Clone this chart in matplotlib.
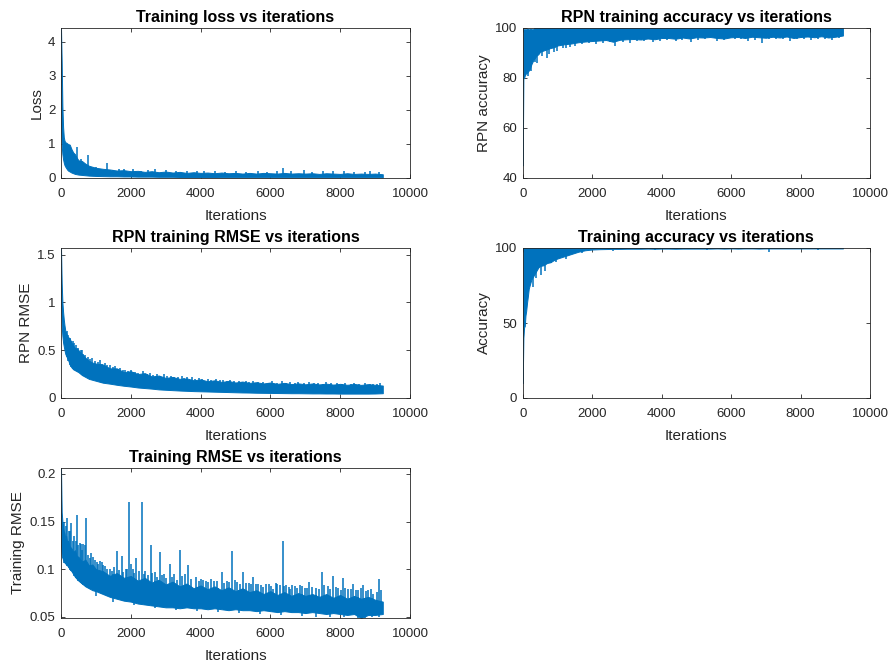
import numpy as np
import matplotlib
matplotlib.use("Agg")
import matplotlib.pyplot as plt

plt.rcParams['font.family'] = ['Liberation Sans', 'DejaVu Sans']

# ---------------- data ----------------
iterations = [0, 20, 40, 60, 80, 100, 125, 150, 175, 200, 250, 300, 350, 400,
              450, 500, 600, 700, 800, 900, 1000] + list(range(1200, 9001, 200)) + [9220]

# Training loss: dense band (lower / upper envelope) + isolated spikes
loss_upper = [4.41, 3.4, 2.1, 1.5, 1.2, 1.1, 1.05, 1.04, 1.02, 1.0, 0.98, 0.85, 0.75, 0.7,
              0.6, 0.52, 0.5, 0.42, 0.36, 0.33, 0.3,
              0.27, 0.25, 0.22, 0.23, 0.2, 0.21, 0.18, 0.2, 0.17, 0.19,
              0.16, 0.18, 0.15, 0.17, 0.15, 0.16, 0.14, 0.16, 0.14, 0.15,
              0.13, 0.15, 0.13, 0.15, 0.14, 0.13, 0.15, 0.13, 0.14, 0.13,
              0.14, 0.12, 0.14, 0.13, 0.12, 0.14, 0.12, 0.13, 0.12, 0.13,
              0.11]
loss_lower = [1.6, 0.95, 0.7, 0.55, 0.45, 0.38, 0.33, 0.29, 0.25, 0.22, 0.19, 0.16, 0.14, 0.12,
              0.11, 0.1, 0.09, 0.08, 0.07, 0.065, 0.06,
              0.055, 0.05, 0.05, 0.045, 0.045, 0.04, 0.04, 0.04, 0.035, 0.035,
              0.035, 0.03, 0.03, 0.03, 0.03, 0.03, 0.03, 0.025, 0.025, 0.025,
              0.025, 0.025, 0.025, 0.025, 0.02, 0.02, 0.02, 0.02, 0.02, 0.02,
              0.02, 0.02, 0.02, 0.02, 0.02, 0.02, 0.02, 0.02, 0.02, 0.02,
              0.02]
loss_spike_iters = [467, 560, 764, 1000, 1310, 1650, 2050, 2700, 3000, 3900, 4400,
                    5650, 6370, 6950, 7500, 8100, 8850,
                    1500, 1800, 2300, 2500, 3300, 3600, 4100, 4700, 5000, 5300, 5900,
                    6200, 6600, 7200, 7800, 8400, 8700, 9100]
loss_spike_vals = [0.92, 0.55, 0.68, 0.32, 0.44, 0.27, 0.26, 0.25, 0.24, 0.22, 0.21,
                   0.22, 0.29, 0.24, 0.22, 0.21, 0.2,
                   0.24, 0.25, 0.22, 0.23, 0.2, 0.21, 0.2, 0.19, 0.2, 0.18, 0.19,
                   0.2, 0.21, 0.19, 0.2, 0.18, 0.19, 0.17]

# RPN training accuracy
rpn_acc_upper = [62, 99.5, 99.5, 99.5, 99.5, 99.5, 99.5, 99.5, 99.5, 99.5, 99.5, 99.5, 100, 100,
                 100, 100, 100, 100, 100, 100, 100,
                 100, 100, 100, 100, 100, 100, 100, 100, 100, 100,
                 100, 100, 100, 100, 100, 100, 100, 100, 100, 100,
                 100, 100, 100, 100, 100, 100, 100, 100, 100, 100,
                 100, 100, 100, 100, 100, 100, 100, 100, 100, 100,
                 100]
rpn_acc_lower = [45, 80, 80, 81, 81.5, 82, 82, 82.5, 83, 83.5, 85.5, 87, 88, 89,
                 89.5, 90.5, 91, 91.5, 92, 92.3, 93,
                 93.5, 93.8, 94.3, 94.6, 94.8, 95, 95.2, 94.5, 95.3, 95.5,
                 95.6, 95.4, 95.8, 95.5, 96, 96, 95.7, 96.2, 95.8, 96.3,
                 96.2, 96.4, 96, 95.8, 96.3, 96.4, 96, 96.5, 96.3, 96.1,
                 96.5, 96.2, 96.6, 96, 96.4, 96.6, 96.3, 96.7, 96.2, 96.5,
                 97]
rpn_acc_dip_iters = [250, 420, 700, 760, 1000, 1250, 1500, 2100, 2650, 3100, 3750, 4400,
                     4850, 5600, 6500, 6900, 7700, 8300, 8900,
                     150, 350, 550, 900, 1150, 1350, 1700, 1900, 2300, 2500, 2900, 3300,
                     3500, 3950, 4150, 4600, 5050, 5250, 5800, 6100, 6300, 6700, 7100,
                     7300, 7500, 7900, 8100, 8500, 8700, 9100]
rpn_acc_dip_vals = [83, 86, 88, 89.5, 91, 92, 93, 93.8, 93, 94.2, 94.5, 94.8,
                    94.5, 95, 95, 94.2, 95, 95.2, 95.3,
                    81, 86.5, 89, 90.5, 92, 92.5, 93.5, 94, 94.2, 94.3, 94.6, 94.8,
                    94.7, 95, 95.2, 95.1, 95.3, 95.5, 95.4, 95.5, 95.6, 95.4, 95.7,
                    95.5, 95.6, 95.8, 95.6, 95.7, 95.8, 95.9]

# RPN training RMSE
rpn_rmse_upper = [1.57, 1.2, 1.0, 0.9, 0.82, 0.76, 0.7, 0.68, 0.65, 0.64, 0.62, 0.58, 0.55, 0.52,
                  0.52, 0.5, 0.46, 0.42, 0.39, 0.37, 0.36,
                  0.35, 0.31, 0.31, 0.27, 0.28, 0.25, 0.26, 0.225, 0.235, 0.21,
                  0.22, 0.2, 0.205, 0.185, 0.195, 0.175, 0.185, 0.168, 0.178, 0.162,
                  0.172, 0.158, 0.165, 0.152, 0.162, 0.148, 0.158, 0.145, 0.153, 0.143,
                  0.152, 0.142, 0.15, 0.14, 0.148, 0.138, 0.147, 0.137, 0.145, 0.138,
                  0.13]
rpn_rmse_lower = [1.0, 0.75, 0.65, 0.58, 0.54, 0.5, 0.46, 0.44, 0.42, 0.4, 0.35, 0.32, 0.3, 0.29,
                  0.28, 0.27, 0.24, 0.22, 0.2, 0.19, 0.18,
                  0.16, 0.15, 0.138, 0.128, 0.12, 0.11, 0.104, 0.098, 0.09, 0.086,
                  0.082, 0.078, 0.075, 0.072, 0.07, 0.068, 0.066, 0.064, 0.062, 0.06,
                  0.058, 0.057, 0.055, 0.054, 0.053, 0.052, 0.051, 0.05, 0.05, 0.049,
                  0.048, 0.048, 0.047, 0.047, 0.046, 0.046, 0.046, 0.046, 0.046, 0.047,
                  0.05]
rpn_rmse_spike_iters = [210, 286, 334, 420, 560, 640, 760, 900, 1117, 1259, 1400, 1547, 1700,
                        1833, 2000, 2120, 2359, 2550, 2741, 2950, 3150, 3457, 3600, 3744,
                        3950, 4200, 4450, 4650, 4843, 5100, 5300, 5500, 5800, 6050, 6322,
                        6550, 6800, 7100, 7350, 7600, 7900, 8150, 8400, 8700, 8950, 9150,
                        160, 250, 380, 480, 600, 700, 820, 960, 1050, 1180, 1330, 1480,
                        1620, 1770, 1920, 2060, 2200, 2450, 2640, 2850, 3050, 3250, 3350,
                        3520, 3850, 4050, 4300, 4550, 4750, 4950, 5200, 5400, 5650, 5950,
                        6200, 6450, 6700, 6950, 7250, 7500, 7750, 8050, 8300, 8550, 8850, 9050]
rpn_rmse_spike_vals = [0.66, 0.6, 0.6, 0.55, 0.5, 0.46, 0.43, 0.42, 0.4, 0.37, 0.35, 0.33, 0.31,
                       0.29, 0.29, 0.275, 0.285, 0.26, 0.255, 0.25, 0.235, 0.23, 0.22, 0.22,
                       0.205, 0.2, 0.195, 0.19, 0.19, 0.18, 0.18, 0.175, 0.172, 0.175, 0.182,
                       0.165, 0.168, 0.165, 0.16, 0.17, 0.16, 0.158, 0.16, 0.155, 0.15, 0.16,
                       0.7, 0.63, 0.57, 0.52, 0.5, 0.45, 0.41, 0.39, 0.38, 0.36, 0.34, 0.32,
                       0.3, 0.29, 0.28, 0.27, 0.265, 0.25, 0.24, 0.235, 0.225, 0.22, 0.215,
                       0.21, 0.2, 0.195, 0.19, 0.185, 0.18, 0.178, 0.172, 0.168, 0.165, 0.162,
                       0.16, 0.16, 0.155, 0.155, 0.152, 0.15, 0.152, 0.148, 0.15, 0.146, 0.147, 0.145]

# Training accuracy
acc_upper = [12, 100, 100, 100, 100, 100, 100, 100, 100, 100, 100, 100, 100, 100,
             100, 100, 100, 100, 100, 100, 100,
             100, 100, 100, 100, 100, 100, 100, 100, 100, 100,
             100, 100, 100, 100, 100, 100, 100, 100, 100, 100,
             100, 100, 100, 100, 100, 100, 100, 100, 100, 100,
             100, 100, 100, 100, 100, 100, 100, 100, 100, 100,
             100]
acc_lower = [10, 40, 47, 48, 55, 58, 63.5, 68, 73, 75, 79, 81, 83, 85,
             87, 88, 88.5, 90, 90.5, 92, 93,
             94.5, 96, 97.5, 98.5, 99, 99.2, 99.3, 99.4, 99.4, 99.5,
             99.5, 99.5, 99.6, 99.5, 99.6, 99.6, 99.5, 99.6, 99.6, 99.6,
             99.6, 99.6, 99.7, 99.6, 99.7, 99.6, 99.7, 99.7, 99.6, 99.7,
             99.7, 99.7, 99.7, 99.7, 99.7, 99.7, 99.7, 99.7, 99.7, 99.7,
             99.7]
acc_dip_iters = [300, 380, 520, 650, 820, 950, 1150, 1250, 1400, 1700, 2600, 3800, 5300, 7100, 8500]
acc_dip_vals = [74, 80, 82, 85, 90, 91, 94, 92.5, 96, 97, 98.3, 98.5, 98.6, 97.5, 98.6]

# Training RMSE
rmse_upper = [0.2063, 0.16, 0.15, 0.145, 0.14, 0.138, 0.132, 0.135, 0.128, 0.13, 0.124, 0.122,
              0.118, 0.12, 0.114, 0.113, 0.108, 0.11, 0.104, 0.105, 0.1,
              0.098, 0.093, 0.096, 0.091, 0.093, 0.088, 0.091, 0.086, 0.089, 0.084,
              0.087, 0.082, 0.085, 0.08, 0.083, 0.079, 0.082, 0.078, 0.081, 0.077,
              0.08, 0.076, 0.078, 0.074, 0.077, 0.073, 0.076, 0.072, 0.075, 0.072,
              0.074, 0.071, 0.074, 0.07, 0.073, 0.069, 0.072, 0.069, 0.071, 0.068,
              0.066]
rmse_lower = [0.125, 0.114, 0.112, 0.11, 0.108, 0.107, 0.106, 0.105, 0.104, 0.103, 0.1, 0.098,
              0.095, 0.092, 0.09, 0.088, 0.085, 0.082, 0.08, 0.078, 0.077,
              0.074, 0.071, 0.069, 0.067, 0.066, 0.064, 0.063, 0.062, 0.061, 0.06,
              0.06, 0.059, 0.06, 0.059, 0.059, 0.058, 0.059, 0.058, 0.057, 0.058,
              0.057, 0.057, 0.056, 0.057, 0.056, 0.055, 0.056, 0.055, 0.055, 0.054,
              0.055, 0.054, 0.053, 0.054, 0.053, 0.052, 0.053, 0.0488, 0.052, 0.052,
              0.053]
rmse_spike_iters = [181, 230, 287, 330, 449, 500, 573, 640, 716, 780, 860, 926, 1020, 1117,
                    1213, 1330, 1450, 1595, 1738, 1850, 1948, 2050, 2149, 2311, 2420, 2569,
                    2700, 2836, 2950, 3123, 3250, 3409, 3550, 3648, 3858, 4000, 4145, 4300,
                    4393, 4603, 4750, 4890, 5050, 5224, 5380, 5510, 5650, 5797, 5950, 6083,
                    6200, 6351, 6450, 6561, 6700, 6847, 6980, 7115, 7300, 7468, 7650, 7802,
                    7950, 8070, 8230, 8376, 8500, 8662, 8800, 8949, 9121,
                    100, 140, 260, 380, 420, 540, 610, 680, 820, 980,
                    1070, 1170, 1270, 1390, 1520, 1650, 1790, 1900, 2000, 2100,
                    2230, 2370, 2480, 2620, 2760, 2880, 3020, 3180, 3330, 3480,
                    3720, 3940, 4070, 4220, 4480, 4680, 4820, 4980, 5140, 5300,
                    5450, 5590, 5730, 5870, 6020, 6150, 6280, 6400, 6520, 6630,
                    6770, 6910, 7050, 7200, 7380, 7550, 7720, 7880, 8010, 8150,
                    8300, 8440, 8590, 8730, 8880, 9050, 9180]
rmse_spike_vals = [0.154, 0.14, 0.149, 0.13, 0.157, 0.125, 0.127, 0.127, 0.154, 0.115, 0.117,
                   0.113, 0.108, 0.109, 0.104, 0.1, 0.098, 0.119, 0.114, 0.1, 0.171, 0.1,
                   0.112, 0.171, 0.098, 0.125, 0.097, 0.1185, 0.095, 0.106, 0.095, 0.12,
                   0.095, 0.104, 0.0916, 0.09, 0.088, 0.09, 0.088, 0.0968, 0.088, 0.1196,
                   0.087, 0.0975, 0.086, 0.0916, 0.085, 0.081, 0.084, 0.079, 0.085, 0.13,
                   0.083, 0.079, 0.082, 0.083, 0.08, 0.0863, 0.08, 0.0968, 0.082, 0.0933,
                   0.08, 0.0905, 0.079, 0.0846, 0.078, 0.083, 0.078, 0.0742, 0.0898,
                   0.15, 0.145, 0.14, 0.135, 0.13, 0.128, 0.12, 0.125, 0.112, 0.11,
                   0.106, 0.108, 0.103, 0.1, 0.102, 0.099, 0.097, 0.1, 0.105, 0.096,
                   0.098, 0.095, 0.094, 0.096, 0.092, 0.094, 0.091, 0.092, 0.089, 0.093,
                   0.09, 0.088, 0.089, 0.087, 0.088, 0.086, 0.087, 0.089, 0.085, 0.086,
                   0.084, 0.085, 0.083, 0.084, 0.082, 0.086, 0.083, 0.082, 0.081, 0.083,
                   0.08, 0.082, 0.08, 0.081, 0.079, 0.083, 0.079, 0.081, 0.078, 0.08,
                   0.079, 0.078, 0.08, 0.077, 0.079, 0.076, 0.078]
rmse_dip_iters = [1000, 1500, 2100, 2700, 3300, 3900, 4500, 5100, 5700, 6300, 6900, 7300,
                  7700, 8100, 8500, 8700, 8900, 9100]
rmse_dip_vals = [0.072, 0.066, 0.062, 0.059, 0.057, 0.056, 0.055, 0.054, 0.053, 0.052, 0.051,
                 0.05, 0.05, 0.05, 0.049, 0.049, 0.05, 0.05]

x_ticks = [0, 2000, 4000, 6000, 8000, 10000]

# ---------------- styling ----------------
BLUE = '#0072BD'
AXC = '#262626'
W, H = 892, 664
fig = plt.figure(figsize=(W / 100, H / 100), dpi=100)


def rect(left, top, right, bottom):
    return [left / W, 1 - bottom / H, (right - left) / W, (bottom - top) / H]


def panel(r, lower, upper, ylim, yticks, yticklabels, ylabel, title,
          up_x=None, up_y=None, dn_x=None, dn_y=None):
    ax = fig.add_axes(r)
    x = np.asarray(iterations, dtype=float)
    lo = np.asarray(lower, dtype=float)
    hi = np.asarray(upper, dtype=float)
    ax.fill_between(x, lo, hi, facecolor=BLUE, edgecolor=BLUE, linewidth=0.7, zorder=2)
    if up_x is not None:
        sx = np.asarray(up_x, dtype=float)
        ax.vlines(sx, np.interp(sx, x, lo), up_y, colors=BLUE, linewidth=1.1, zorder=2)
    if dn_x is not None:
        sx = np.asarray(dn_x, dtype=float)
        ax.vlines(sx, dn_y, np.interp(sx, x, hi), colors=BLUE, linewidth=1.1, zorder=2)
    ax.set_xlim(0, 10000)
    ax.set_ylim(*ylim)
    ax.set_xticks(x_ticks)
    ax.set_xticklabels([str(t) for t in x_ticks])
    ax.set_yticks(yticks)
    ax.set_yticklabels(yticklabels)
    ax.tick_params(direction='in', length=2.8, width=0.6, colors=AXC, labelsize=9.5,
                   top=True, right=True)
    ax.tick_params(axis='x', pad=7.5)
    ax.tick_params(axis='y', pad=4)
    for s in ax.spines.values():
        s.set_color(AXC)
        s.set_linewidth(0.6)
    ax.set_xlabel('Iterations', fontsize=11, color=AXC, labelpad=6)
    ax.set_ylabel(ylabel, fontsize=11, color=AXC, labelpad=3)
    ax.set_title(title, fontsize=11.5, fontweight='bold', color='black', pad=4)
    return ax


LX0, LX1 = 61, 410
RX0, RX1 = 522.7, 870
R1 = (28, 178)
R2 = (248, 398)
R3 = (468, 618)

panel(rect(LX0, R1[0], LX1, R1[1]), loss_lower, loss_upper, (0, 4.41),
      [0, 1, 2, 3, 4], ['0', '1', '2', '3', '4'], 'Loss', 'Training loss vs iterations',
      loss_spike_iters, loss_spike_vals)

panel(rect(RX0, R1[0], RX1, R1[1]), rpn_acc_lower, rpn_acc_upper, (40, 100),
      [40, 60, 80, 100], ['40', '60', '80', '100'], 'RPN accuracy',
      'RPN training accuracy vs iterations', dn_x=rpn_acc_dip_iters, dn_y=rpn_acc_dip_vals)

panel(rect(LX0, R2[0], LX1, R2[1]), rpn_rmse_lower, rpn_rmse_upper, (0, 1.568),
      [0, 0.5, 1, 1.5], ['0', '0.5', '1', '1.5'], 'RPN RMSE',
      'RPN training RMSE vs iterations', rpn_rmse_spike_iters, rpn_rmse_spike_vals)

panel(rect(RX0, R2[0], RX1, R2[1]), acc_lower, acc_upper, (0, 100),
      [0, 50, 100], ['0', '50', '100'], 'Accuracy',
      'Training accuracy vs iterations', dn_x=acc_dip_iters, dn_y=acc_dip_vals)

panel(rect(LX0, R3[0], LX1, R3[1]), rmse_lower, rmse_upper, (0.0488, 0.2063),
      [0.05, 0.1, 0.15, 0.2], ['0.05', '0.1', '0.15', '0.2'], 'Training RMSE',
      'Training RMSE vs iterations', rmse_spike_iters, rmse_spike_vals,
      rmse_dip_iters, rmse_dip_vals)

fig.savefig('out.png', dpi=100)
